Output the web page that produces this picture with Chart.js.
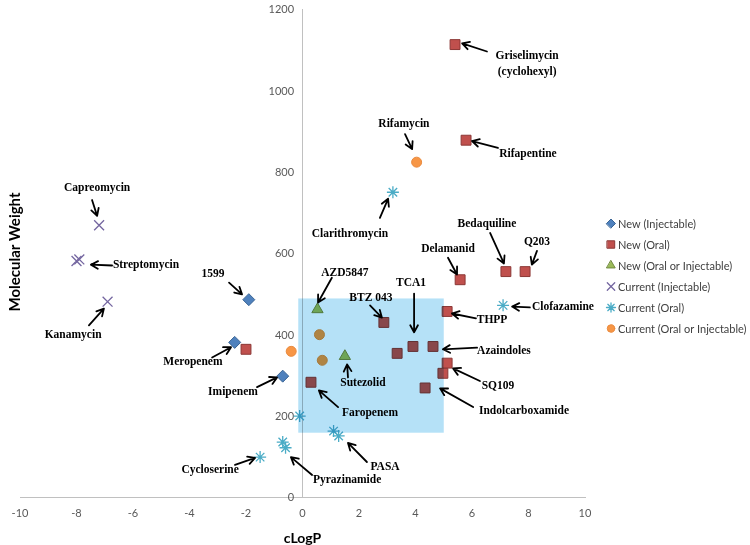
<!DOCTYPE html>
<html>
<head>
<meta charset="utf-8">
<script src="https://cdn.jsdelivr.net/npm/chart.js@4.4.1/dist/chart.umd.min.js"></script>
<style>
  html, body { margin: 0; padding: 0; background: #fff; }
  #wrap { width: 750px; height: 545px; }
</style>
</head>
<body>
<div id="wrap"><canvas id="chart"></canvas></div>
<script>
// values (x = cLogP, y = molecular weight)
var newInjectable = [{x: -1.9, y: 487}, {x: -2.4, y: 382}, {x: -0.7, y: 299}];
var newOral = [
    {x: -2.0, y: 365}, {x: 0.3, y: 284}, {x: 2.88, y: 431}, {x: 3.35, y: 355},
    {x: 3.91, y: 372}, {x: 4.62, y: 372}, {x: 5.58, y: 536}, {x: 5.12, y: 458},
    {x: 5.12, y: 331}, {x: 4.97, y: 306}, {x: 4.34, y: 270}, {x: 5.4, y: 1114},
    {x: 5.79, y: 879}, {x: 7.2, y: 556}, {x: 7.88, y: 556}
];
var newOralOrInj = [{x: 0.53, y: 463}, {x: 1.5, y: 348}];
var currentInjectable = [{x: -7.2, y: 670}, {x: -8.0, y: 582}, {x: -7.9, y: 586}, {x: -6.9, y: 482}];
var currentOral = [
    {x: 3.2, y: 751}, {x: 7.1, y: 473}, {x: -0.1, y: 201}, {x: 1.1, y: 164},
    {x: 1.28, y: 152}, {x: -0.7, y: 137}, {x: -0.6, y: 123}, {x: -1.5, y: 100}
];
var currentOralOrInj = [{x: 4.04, y: 825}, {x: -0.4, y: 360}, {x: 0.6, y: 401}, {x: 0.7, y: 338}];

var seriesNames = ['New (Injectable)', 'New (Oral)', 'New (Oral or Injectable)',
    'Current (Injectable)', 'Current (Oral)', 'Current (Oral or Injectable)'];

// shaded region: cLogP range and MW range
var boxX = [-0.15, 5.0];
var boxY = [160, 490];

// [text, label x, label y, arrow from x, y, arrow to x, y]
var labels = [
    ['Capreomycin', -7.27, 762, -7.45, 732, -7.27, 693],
    ['Streptomycin', -5.54, 571, -6.74, 571, -7.49, 573],
    ['Kanamycin', -8.12, 399, -7.56, 424, -7.03, 465],
    ['1599', -3.17, 551, -2.60, 529, -2.14, 500],
    ['Meropenem', -3.88, 333, -3.20, 345, -2.53, 370],
    ['Imipenem', -2.46, 260, -1.61, 272, -0.90, 296],
    ['Cycloserine', -3.27, 69, -2.39, 81, -1.68, 98],
    ['Pyrazinamide', 1.58, 44, 0.34, 56, -0.41, 100],
    ['PASA', 2.92, 76, 2.28, 88, 1.61, 135],
    ['Faropenem', 2.39, 208, 1.26, 223, 0.58, 264],
    ['Sutezolid', 2.14, 282, 1.61, 296, 1.58, 328],
    ['AZD5847', 1.50, 553, 1.04, 541, 0.55, 480],
    ['BTZ 043', 2.42, 490, 2.39, 473, 2.81, 443],
    ['TCA1', 3.84, 527, 3.95, 502, 3.95, 407],
    ['THPP', 6.71, 436, 6.14, 441, 5.29, 453],
    ['Azaindoles', 7.13, 360, 6.18, 369, 4.97, 365],
    ['SQ109', 6.92, 274, 6.28, 287, 5.33, 318],
    ['Indolcarboxamide', 7.84, 213, 6.04, 223, 4.87, 269],
    ['Clofazamine', 9.22, 468, 8.05, 468, 7.42, 470],
    ['Delamanid', 5.15, 612, 5.15, 590, 5.47, 549],
    ['Bedaquiline', 6.53, 673, 6.64, 651, 7.13, 576],
    ['Q203', 8.30, 629, 8.30, 607, 8.12, 573],
    ['Clarithromycin', 1.68, 649, 2.74, 688, 3.03, 735],
    ['Rifamycin', 3.59, 918, 3.63, 894, 3.88, 857],
    ['Rifapentine', 7.98, 845, 6.92, 860, 6.00, 877],
    ['Griselimycin\n(cyclohexyl)', 7.95, 1065, 6.53, 1097, 5.65, 1117]
];

var styles = [
    {pointStyle: 'rectRot', radius: 6, bg: '#4F81BD', border: '#3A6595', bw: 1},
    {pointStyle: 'rect', radius: 7, bg: '#C0504D', border: '#8C3836', bw: 1},
    {pointStyle: 'triangle', radius: 6.5, bg: '#9BBB59', border: '#71893F', bw: 1},
    {pointStyle: 'crossRot', radius: 7, bg: '#8064A2', border: '#7466A0', bw: 1.3},
    {pointStyle: 'star', radius: 6, bg: '#4BACC6', border: '#4BACC6', bw: 1.3},
    {pointStyle: 'circle', radius: 5, bg: '#F79646', border: '#E98A3E', bw: 1}
];
var seriesData = [newInjectable, newOral, newOralOrInj, currentInjectable, currentOral, currentOralOrInj];

var datasets = seriesData.map(function(d, i) {
    var s = styles[i];
    return {
        label: seriesNames[i],
        data: d,
        pointStyle: s.pointStyle,
        pointRadius: s.radius,
        pointBackgroundColor: s.bg,
        pointBorderColor: s.border,
        pointBorderWidth: s.bw,
        showLine: false
    };
});

function drawArrow(ctx, x1, y1, x2, y2) {
    var ang = Math.atan2(y2 - y1, x2 - x1);
    var head = 8;
    ctx.beginPath();
    ctx.moveTo(x1, y1);
    ctx.lineTo(x2, y2);
    ctx.moveTo(x2 - head * Math.cos(ang - 0.5), y2 - head * Math.sin(ang - 0.5));
    ctx.lineTo(x2, y2);
    ctx.lineTo(x2 - head * Math.cos(ang + 0.5), y2 - head * Math.sin(ang + 0.5));
    ctx.stroke();
}

var extras = {
    id: 'extras',
    afterDatasetsDraw: function(chart) {
        var ctx = chart.ctx, xs = chart.scales.x, ys = chart.scales.y;
        // shaded box lies over the markers (multiplied, like the original)
        ctx.save();
        ctx.globalCompositeOperation = 'multiply';
        ctx.fillStyle = '#b5e1f7';
        var l = xs.getPixelForValue(boxX[0]), r = xs.getPixelForValue(boxX[1]);
        var t = ys.getPixelForValue(boxY[1]), b = ys.getPixelForValue(boxY[0]);
        ctx.fillRect(l, t, r - l, b - t);
        ctx.restore();
    },
    afterDraw: function(chart) {
        var ctx = chart.ctx, xs = chart.scales.x, ys = chart.scales.y;
        ctx.save();
        // labels and arrows
        ctx.fillStyle = '#000';
        ctx.strokeStyle = '#000';
        ctx.lineWidth = 1.8;
        ctx.lineCap = 'round';
        ctx.lineJoin = 'round';
        ctx.font = 'bold 11.5px "Liberation Serif"';
        ctx.textAlign = 'center';
        ctx.textBaseline = 'middle';
        labels.forEach(function(a) {
            var lines = a[0].split('\n');
            var lx = xs.getPixelForValue(a[1]), ly = ys.getPixelForValue(a[2]);
            lines.forEach(function(txt, k) {
                ctx.fillText(txt, lx, ly + (k - (lines.length - 1) / 2) * 16);
            });
            drawArrow(ctx, xs.getPixelForValue(a[3]), ys.getPixelForValue(a[4]),
                xs.getPixelForValue(a[5]), ys.getPixelForValue(a[6]));
        });

        // y title
        ctx.save();
        ctx.translate(15, 252);
        ctx.rotate(-Math.PI / 2);
        ctx.font = 'bold 15px Lato';
        ctx.fillStyle = '#000';
        ctx.fillText('Molecular Weight', 0, 0);
        ctx.restore();

        // legend
        ctx.font = '11px Lato';
        ctx.textAlign = 'left';
        for (var i = 0; i < seriesNames.length; i++) {
            var y = 223.5 + i * 21;
            var s = styles[i];
            ctx.fillStyle = s.bg;
            ctx.strokeStyle = s.border;
            ctx.lineWidth = s.bw;
            Chart.helpers.drawPoint(ctx, {pointStyle: s.pointStyle, radius: s.radius * 0.75, rotation: 0, borderWidth: s.bw}, 611, y);
            ctx.fillStyle = '#404040';
            ctx.fillText(seriesNames[i], 618, y + 1);
        }
        ctx.restore();
    }
};

var noWidth = function(scale) { scale.width = 0; };

new Chart(document.getElementById('chart'), {
    type: 'scatter',
    data: {datasets: datasets},
    options: {
        responsive: true,
        maintainAspectRatio: false,
        animation: false,
        layout: {padding: {left: 20, right: 165, top: 8, bottom: 0}},
        plugins: {legend: {display: false}, tooltip: {enabled: false}},
        scales: {
            x: {
                type: 'linear', min: -10, max: 10,
                ticks: {stepSize: 2, color: '#595959', font: {family: 'Lato', size: 11}, padding: 9},
                grid: {display: false, drawTicks: false},
                border: {color: '#c0c0c0', width: 1},
                title: {display: true, text: 'cLogP', color: '#000',
                    font: {family: 'Lato', size: 14, weight: 'bold', lineHeight: 1.0},
                    padding: {top: 2, bottom: 0}}
            },
            // the value axis, crossing at cLogP = 0 (line only)
            y: {
                type: 'linear', min: 0, max: 1200,
                position: {x: 0},
                afterFit: noWidth,
                ticks: {display: false, stepSize: 200},
                grid: {display: false, drawTicks: false},
                border: {color: '#c0c0c0', width: 1}
            },
            // tick labels of the same axis, set a little to the left of the line
            yTicks: {
                axis: 'y', type: 'linear', min: 0, max: 1200,
                position: {x: -0.3},
                afterFit: noWidth,
                ticks: {stepSize: 200, color: '#595959', font: {family: 'Lato', size: 11},
                    callback: function(v) { return String(v); }},
                grid: {display: false, drawTicks: false},
                border: {display: false}
            }
        }
    },
    plugins: [extras]
});
</script>
</body>
</html>
